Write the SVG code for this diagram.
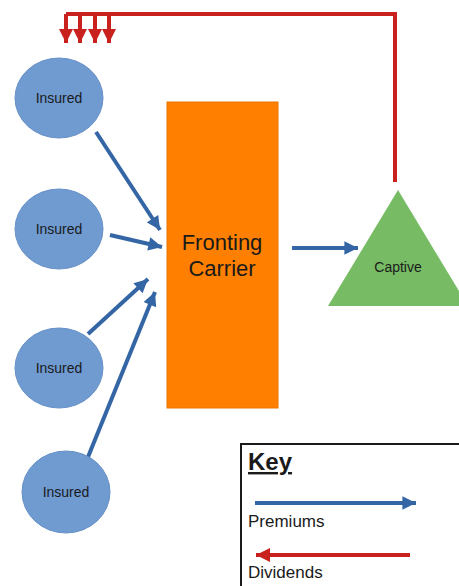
<svg xmlns="http://www.w3.org/2000/svg" width="459" height="586" viewBox="0 0 459 586">
<style>
  text { font-family: "Liberation Sans", Arial, sans-serif; fill: #1a1a1a; }
  .ins { fill: #6f9bd1; stroke: #6690c8; stroke-width: 1; }
  .blue { stroke: #3465a4; stroke-width: 4; fill: none; }
  .red { stroke: #c9211e; stroke-width: 4; fill: none; }
  .lbl { font-size: 14px; text-anchor: middle; }
  .key { font-size: 17px; }
</style>
<defs>
  <marker id="bh" viewBox="0 0 10 10" refX="10" refY="5" markerWidth="3.8" markerHeight="3.4" orient="auto" markerUnits="strokeWidth">
    <path d="M0,0 L10,5 L0,10 z" fill="#3465a4"/>
  </marker>
  <marker id="rh" viewBox="0 0 10 10" refX="10" refY="5" markerWidth="3.5" markerHeight="3.5" orient="auto" markerUnits="strokeWidth">
    <path d="M0,0 L10,5 L0,10 z" fill="#c9211e"/>
  </marker>
</defs>
<rect width="459" height="586" fill="#ffffff"/>

<g id="connectors">
  <path class="blue" d="M96,132 L160,230" marker-end="url(#bh)"/>
  <path class="blue" d="M110,235 L162,247" marker-end="url(#bh)"/>
  <path class="blue" d="M88,334 L148,279" marker-end="url(#bh)"/>
  <path class="blue" d="M88,457 L155,292" marker-end="url(#bh)"/>
  <path class="blue" d="M292,248 L358,248" marker-end="url(#bh)"/>
  <path class="red" d="M395,182 L395,14 L66,14"/>
  <path class="red" d="M66,14 L66,43" marker-end="url(#rh)"/>
  <path class="red" d="M80,14 L80,43" marker-end="url(#rh)"/>
  <path class="red" d="M95,14 L95,43" marker-end="url(#rh)"/>
  <path class="red" d="M109,14 L109,43" marker-end="url(#rh)"/>
</g>

<g id="insured1">
  <ellipse class="ins" cx="59" cy="98" rx="44" ry="40"/>
  <text class="lbl" x="59" y="103">Insured</text>
</g>
<g id="insured2">
  <ellipse class="ins" cx="59" cy="229" rx="44" ry="40"/>
  <text class="lbl" x="59" y="234">Insured</text>
</g>
<g id="insured3">
  <ellipse class="ins" cx="59" cy="368" rx="44" ry="40"/>
  <text class="lbl" x="59" y="373">Insured</text>
</g>
<g id="insured4">
  <ellipse class="ins" cx="66" cy="492" rx="44" ry="41"/>
  <text class="lbl" x="66" y="497">Insured</text>
</g>

<g id="fronting">
  <rect x="167" y="102" width="111" height="306" fill="#ff8000" stroke="#e87500" stroke-width="1"/>
  <text x="222" y="250" font-size="22" text-anchor="middle">Fronting</text>
  <text x="222" y="276" font-size="22" text-anchor="middle">Carrier</text>
</g>

<g id="captive">
  <polygon points="398,190 468,306 328,306" fill="#77bc65"/>
  <text class="lbl" x="398" y="272">Captive</text>
</g>

<g id="key">
  <rect x="241" y="444" width="222" height="150" fill="#ffffff" stroke="#1a1a1a" stroke-width="2"/>
  <text x="248" y="470" font-size="24" font-weight="bold" text-decoration="underline">Key</text>
  <path class="blue" d="M255,503 L416,503" marker-end="url(#bh)"/>
  <text class="key" x="248" y="527">Premiums</text>
  <path class="red" d="M410,555 L256,555" marker-end="url(#rh)"/>
  <text class="key" x="248" y="578">Dividends</text>
</g>
</svg>
